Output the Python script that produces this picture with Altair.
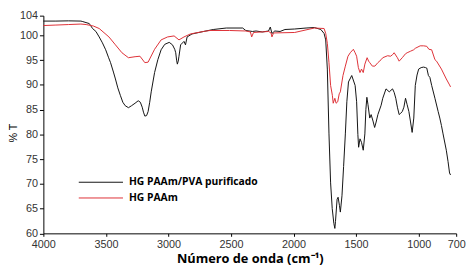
import altair as alt
import pandas as pd

black_label = "HG PAAm/PVA purificado"
red_label = "HG PAAm"

black_wn = [4000, 3900, 3800, 3700, 3685, 3633, 3607, 3580, 3554, 3528, 3502, 3480, 3463, 3440, 3424, 3405,
            3385, 3365, 3346, 3320, 3295, 3267, 3242, 3225, 3210, 3200, 3189, 3175, 3163, 3150, 3138, 3111,
            3085, 3059, 3030, 2994, 2968, 2950, 2942, 2935, 2929, 2922, 2916, 2903, 2876, 2864, 2851, 2812,
            2720, 2642, 2538, 2407, 2382, 2329, 2300, 2250, 2200, 2186, 2173, 2150, 2108, 2069, 1991, 1900,
            1834, 1782, 1756, 1743, 1730, 1717, 1704, 1691, 1678, 1670, 1665, 1652, 1644, 1633, 1626, 1613,
            1600, 1586, 1574, 1561, 1535, 1508, 1496, 1486, 1480, 1469, 1457, 1443, 1430, 1422, 1414, 1405,
            1391, 1380, 1365, 1352, 1340, 1326, 1300, 1287, 1261, 1235, 1209, 1196, 1183, 1170, 1156, 1143,
            1131, 1118, 1105, 1092, 1078, 1066, 1052, 1039, 1027, 1013, 1000, 980, 961, 945, 935, 922, 910,
            896, 870, 844, 831, 818, 805, 779, 765, 753, 745]
black_t = [102.9, 102.9, 102.95, 102.9, 102.8, 102.4, 101.4, 100.8, 99.7, 98.5, 97.1, 95.6, 94.5, 92.6, 91.2, 89.4,
           87.9, 86.5, 85.8, 85.4, 85.8, 86.3, 86.8, 86.5, 85.5, 84.5, 83.7, 83.8, 84.6, 86.5, 88.6, 92.5,
           95.1, 97.1, 98.2, 98.6, 98.1, 97.2, 96.5, 95.0, 94.2, 94.8, 95.8, 98.1, 98.8, 98.1, 99.7, 100.3,
           100.8, 101.2, 101.5, 101.5, 101.0, 100.8, 100.9, 100.7, 100.9, 101.7, 100.4, 100.9, 100.8, 101.2, 101.3, 101.5,
           101.6, 101.2, 100.4, 99.1, 93.2, 80.1, 70.2, 65.0, 62.0, 61.0, 62.4, 66.9, 67.3, 65.6, 64.3, 67.6,
           73.5, 80.1, 86.6, 90.6, 91.9, 89.9, 86.6, 80.0, 77.4, 79.1, 78.4, 76.8, 80.1, 85.0, 87.5, 86.0,
           83.3, 84.0, 82.7, 81.4, 82.5, 84.0, 85.9, 87.3, 89.2, 88.6, 89.2, 88.5, 87.3, 85.5, 84.0, 84.3,
           84.6, 85.5, 87.3, 86.0, 84.6, 82.7, 80.4, 83.3, 89.9, 92.0, 93.2, 93.5, 93.6, 93.5, 93.4, 91.9, 91.5,
           89.9, 87.3, 84.6, 83.3, 81.8, 80.1, 76.8, 74.5, 72.2, 71.8]

red_wn = [4000, 3900, 3800, 3700, 3658, 3600, 3554, 3476, 3424, 3372, 3320, 3267, 3228, 3189, 3163, 3111,
          3059, 3007, 2955, 2916, 2876, 2825, 2720, 2668, 2512, 2382, 2345, 2335, 2320, 2200, 2180, 2173,
          2160, 1991, 1834, 1756, 1743, 1730, 1717, 1704, 1690, 1683, 1670, 1660, 1647, 1635, 1626, 1605,
          1586, 1565, 1547, 1522, 1508, 1496, 1482, 1469, 1457, 1443, 1430, 1412, 1400, 1391, 1370, 1350,
          1326, 1300, 1287, 1248, 1225, 1209, 1196, 1170, 1156, 1131, 1105, 1092, 1066, 1040, 1027, 988,
          960, 935, 918, 896, 870, 857, 818, 779, 753, 745]
red_t = [102.0, 102.1, 102.2, 102.3, 102.2, 101.9, 101.4, 99.7, 98.1, 96.5, 95.5, 95.7, 95.8, 94.5, 94.6, 97.2,
         99.1, 99.7, 99.9, 99.1, 99.7, 100.3, 100.8, 101.0, 101.0, 100.9, 100.7, 99.7, 100.6, 100.8, 100.5, 99.7,
         100.5, 100.6, 101.5, 101.4, 100.4, 98.4, 94.5, 89.9, 87.9, 86.3, 87.3, 86.3, 86.6, 88.2, 88.6, 91.9,
         93.8, 95.8, 96.5, 97.2, 96.5, 95.8, 93.5, 92.5, 93.2, 92.5, 94.2, 95.5, 94.8, 94.5, 93.8, 93.8,
         94.5, 95.1, 95.5, 95.9, 95.8, 96.1, 96.5, 95.5, 94.8, 95.5, 96.3, 96.5, 96.8, 97.1, 97.4, 97.9,
         97.9, 97.8, 97.2, 97.1, 95.1, 94.8, 93.2, 91.2, 90.0, 89.6]

x_ticks = [4000, 3500, 3000, 2500, 2000, 1500, 1000, 700]
y_ticks = [60, 65, 70, 75, 80, 85, 90, 95, 100, 104]

df = pd.concat([
    pd.DataFrame({"wn": black_wn, "t": black_t, "serie": black_label}),
    pd.DataFrame({"wn": red_wn, "t": red_t, "serie": red_label}),
])

chart = alt.Chart(df).mark_line(strokeWidth=1, interpolate="linear").encode(
    x=alt.X("wn:Q",
            scale=alt.Scale(domain=[700, 4000], reverse=True, nice=False, zero=False),
            axis=alt.Axis(values=x_ticks, title="Número de onda (cm⁻¹)", format="d",
                          grid=False, tickSize=3, labelPadding=2, titlePadding=4,
                          titleFont="Open Sans", titleFontSize=13, titleFontWeight="bold",
                          labelFont="Liberation Sans", labelFontSize=11, labelColor="#333333",
                          domainColor="#000000", tickColor="#000000",
                          titleColor="#000000", labelFlush=False)),
    y=alt.Y("t:Q",
            scale=alt.Scale(domain=[60, 104], nice=False, zero=False),
            axis=alt.Axis(values=y_ticks, title="% T", format="d",
                          grid=False, tickSize=4, labelPadding=2,
                          titleX=-25, titleY=119,
                          titleFont="Liberation Sans", titleFontSize=11, titleFontWeight="normal",
                          labelFont="Liberation Sans", labelFontSize=11, labelColor="#333333",
                          domainColor="#000000", tickColor="#000000",
                          titleColor="#000000", labelFlush=False)),
    color=alt.Color("serie:N",
                    scale=alt.Scale(domain=[black_label, red_label], range=["#111111", "#dd2f35"]),
                    legend=alt.Legend(title=None, orient="none", legendX=53, legendY=164, padding=0,
                                      symbolType="M-4.5,0H4.5", symbolSize=100, symbolStrokeWidth=1,
                                      labelFont="Open Sans", labelFontSize=10.5, labelFontWeight="bold",
                                      labelColor="#000000", rowPadding=5, labelOffset=23)),
    order=alt.Order("wn:Q", sort="descending"),
).properties(
    width=420, height=221.5,
    autosize=alt.AutoSizeParams(type="none"),
    padding={"left": 36, "top": 5.5, "right": 11, "bottom": 35},
).configure_view(stroke=None)

chart.save("out.html", embed_options={"renderer": "svg", "actions": False})
